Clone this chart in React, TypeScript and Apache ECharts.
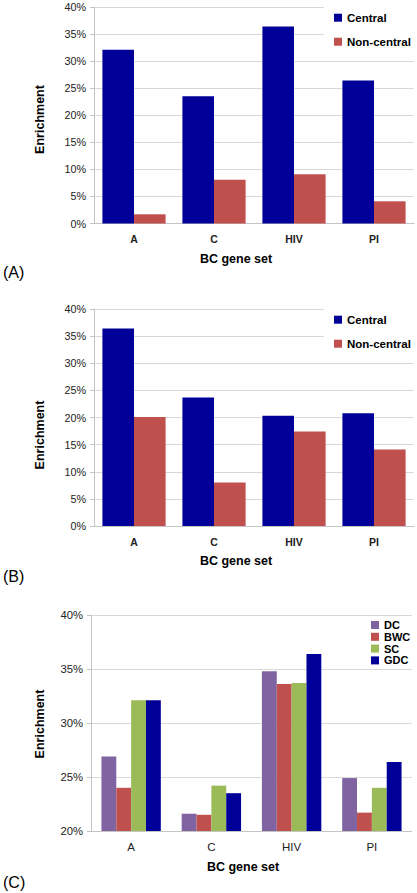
import React, { useEffect, useRef } from "react";
import * as echarts from "echarts";

const categories = ["A", "C", "HIV", "PI"];

const aCentral = [32.1, 23.5, 36.4, 26.4];
const aNonCentral = [1.7, 8.1, 9.1, 4.1];

const bCentral = [36.4, 23.7, 20.3, 20.8];
const bNonCentral = [20.1, 8.0, 17.4, 14.1];

const cDC = [26.9, 21.6, 34.8, 24.9];
const cBWC = [24.0, 21.5, 33.6, 21.7];
const cSC = [32.1, 24.2, 33.7, 24.0];
const cGDC = [32.1, 23.5, 36.4, 26.4];

const FONT = "'Liberation Sans', Arial, Helvetica, sans-serif";
const NAVY = "#000099";
const RED = "#C0504D";
const PURPLE = "#8064A2";
const GREEN = "#9BBB59";
const GRID = "#d9d9d9";
const AXIS = "#c4c4c4";
const TXT = "#222222";

export default function App() {
  const ref = useRef<HTMLDivElement>(null);

  useEffect(() => {
    document.body.style.margin = "0";
    const chart = echarts.init(ref.current!, undefined, { renderer: "svg" });

    const grids = [
      { left: 94, top: 7, width: 320, height: 216.5 },
      { left: 94, top: 309, width: 320, height: 217 },
      { left: 91, top: 615, width: 321, height: 216 },
    ];

    const mkX = (i: number, bold: boolean, size: number, margin: number) => ({
      type: "category",
      gridIndex: i,
      data: categories,
      axisLine: { lineStyle: { color: AXIS } },
      axisTick: { show: false },
      axisLabel: {
        color: TXT,
        fontFamily: FONT,
        fontWeight: bold ? "bold" : "normal",
        fontSize: size,
        margin,
      },
    });

    const mkY = (i: number, min: number, size: number, margin: number) => ({
      type: "value",
      gridIndex: i,
      min,
      max: 40,
      interval: 5,
      axisLine: { show: true, lineStyle: { color: AXIS } },
      axisTick: { show: true, length: 4, lineStyle: { color: AXIS } },
      splitLine: { lineStyle: { color: GRID } },
      axisLabel: {
        color: TXT,
        fontFamily: FONT,
        fontSize: size,
        margin,
        formatter: (v: number) => `${v}%`,
      },
    });

    const bar = (
      name: string,
      data: number[],
      color: string,
      idx: number,
      catGap: string
    ) => ({
      type: "bar",
      name,
      data,
      xAxisIndex: idx,
      yAxisIndex: idx,
      barGap: "0%",
      barCategoryGap: catGap,
      itemStyle: { color },
      emphasis: { disabled: true },
    });

    const legendBase = {
      orient: "vertical",
      itemWidth: 8,
      itemHeight: 8,
      icon: "rect",
      selectedMode: false,
      textStyle: {
        color: "#000",
        fontFamily: FONT,
        fontWeight: "bold",
        fontSize: 11.5,
      },
    };

    const text = (
      t: string,
      x: number,
      y: number,
      size: number,
      bold: boolean,
      rot = 0,
      align = "center"
    ) => ({
      type: "text",
      x,
      y,
      rotation: rot,
      silent: true,
      z: 10,
      style: {
        text: t,
        fill: "#000",
        font: `${bold ? "bold " : ""}${size}px ${FONT}`,
        align,
        verticalAlign: "middle",
        textAlign: align,
        textVerticalAlign: "middle",
      },
    });

    chart.setOption({
      animation: false,
      backgroundColor: "#ffffff",
      grid: grids,
      xAxis: [mkX(0, true, 10.5, 10), mkX(1, true, 10.5, 10), mkX(2, false, 11.5, 10)],
      yAxis: [mkY(0, 0, 10.8, 8), mkY(1, 0, 10.8, 8), mkY(2, 20, 11.3, 8)],
      legend: [
        {
          ...legendBase,
          left: 324,
          top: 5.7,
          padding: [5, 4, 8, 10],
          backgroundColor: "#ffffff",
          itemGap: 10,
          textStyle: { ...legendBase.textStyle, lineHeight: 14 },
          data: ["Central", "Non-central"],
        },
        {
          ...legendBase,
          left: 324,
          top: 307.7,
          padding: [5, 4, 8, 10],
          backgroundColor: "#ffffff",
          itemGap: 10,
          textStyle: { ...legendBase.textStyle, lineHeight: 14 },
          data: [{ name: "Central" }, { name: "Non-central" }],
        },
        {
          ...legendBase,
          left: 371,
          top: 619.1,
          padding: 0,
          itemGap: 0,
          textStyle: { ...legendBase.textStyle, fontSize: 11, lineHeight: 11.8 },
          data: ["DC", "BWC", "SC", "GDC"],
        },
      ],
      graphic: [
        text("Enrichment", 39.5, 119.5, 12.5, true, Math.PI / 2),
        text("Enrichment", 39.5, 435, 12.5, true, Math.PI / 2),
        text("Enrichment", 39.5, 724, 12.5, true, Math.PI / 2),
        text("BC gene set", 236, 258.5, 12.5, true),
        text("BC gene set", 236, 561, 12.5, true),
        text("BC gene set", 243, 867, 12.5, true),
        text("(A)", 3, 272, 16, false, 0, "left"),
        text("(B)", 3, 576, 16, false, 0, "left"),
        text("(C)", 3, 882, 16, false, 0, "left"),
      ],
      series: [
        bar("Central", aCentral, NAVY, 0, "21%"),
        bar("Non-central", aNonCentral, RED, 0, "21%"),
        bar("Central", bCentral, NAVY, 1, "21%"),
        bar("Non-central", bNonCentral, RED, 1, "21%"),
        bar("DC", cDC, PURPLE, 2, "26%"),
        bar("BWC", cBWC, RED, 2, "26%"),
        bar("SC", cSC, GREEN, 2, "26%"),
        bar("GDC", cGDC, NAVY, 2, "26%"),
      ],
    });

    return () => chart.dispose();
  }, []);

  return <div ref={ref} style={{ width: 417, height: 893 }} />;
}
